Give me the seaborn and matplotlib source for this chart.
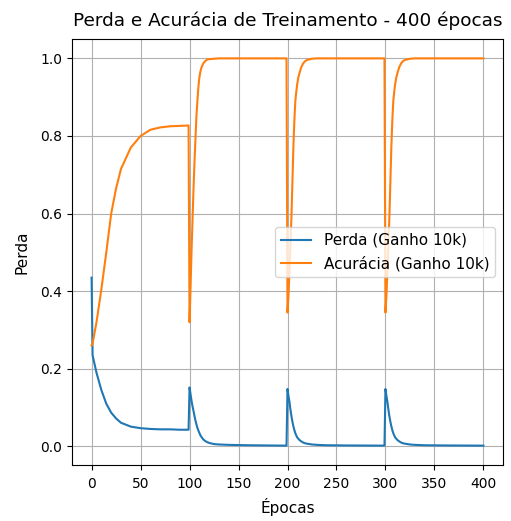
import matplotlib
matplotlib.use("Agg")
import matplotlib.pyplot as plt
import seaborn as sns
import pandas as pd

# Segment 1 (0-99)
ep1 = [0, 1, 5, 10, 15, 20, 25, 30, 40, 50, 60, 70, 80, 90, 99]
perda1 = [0.435, 0.235, 0.19, 0.145, 0.11, 0.087, 0.072, 0.061, 0.051, 0.047, 0.045, 0.044, 0.044, 0.043, 0.043]
acc1 = [0.26, 0.265, 0.32, 0.405, 0.50, 0.60, 0.665, 0.715, 0.77, 0.80, 0.816, 0.822, 0.825, 0.826, 0.827]

# Segment 2 (100-199)
ep2 = [100, 101, 102, 103, 104, 105, 106, 107, 108, 109, 110, 111, 112, 114, 116, 118, 120, 125, 130, 140, 160, 199]
perda2 = [0.152, 0.135, 0.118, 0.104, 0.092, 0.079, 0.067, 0.057, 0.048, 0.041, 0.035, 0.029, 0.025, 0.018, 0.014,
          0.011, 0.009, 0.006, 0.005, 0.004, 0.003, 0.002]
acc2 = [0.32, 0.41, 0.50, 0.58, 0.66, 0.73, 0.79, 0.85, 0.89, 0.925, 0.95, 0.965, 0.975, 0.987, 0.993,
        0.997, 0.998, 0.999, 1.0, 1.0, 1.0, 1.0]

# Segment 3 (200-299)
ep3 = [200, 201, 202, 203, 204, 205, 206, 207, 208, 209, 210, 211, 212, 214, 216, 218, 220, 225, 230, 240, 260, 299]
perda3 = [0.148, 0.13, 0.115, 0.095, 0.078, 0.064, 0.052, 0.042, 0.034, 0.028, 0.023, 0.020, 0.017, 0.013, 0.010,
          0.008, 0.007, 0.005, 0.004, 0.003, 0.0025, 0.002]
acc3 = [0.345, 0.39, 0.45, 0.52, 0.59, 0.68, 0.77, 0.84, 0.89, 0.915, 0.935, 0.95, 0.96, 0.977, 0.987,
        0.993, 0.996, 0.999, 1.0, 1.0, 1.0, 1.0]

# Segment 4 (300-400)
ep4 = [300, 301, 302, 303, 304, 305, 306, 307, 308, 309, 310, 311, 312, 314, 316, 318, 320, 325, 330, 340, 360, 400]
perda4 = [0.148, 0.13, 0.115, 0.095, 0.078, 0.064, 0.052, 0.042, 0.034, 0.028, 0.023, 0.020, 0.017, 0.013, 0.010,
          0.008, 0.007, 0.005, 0.004, 0.003, 0.0025, 0.002]
acc4 = [0.345, 0.39, 0.45, 0.52, 0.59, 0.68, 0.77, 0.84, 0.89, 0.915, 0.935, 0.95, 0.96, 0.977, 0.987,
        0.993, 0.996, 0.999, 1.0, 1.0, 1.0, 1.0]

epocas = ep1 + ep2 + ep3 + ep4
perda = perda1 + perda2 + perda3 + perda4
acuracia = acc1 + acc2 + acc3 + acc4

labels = ["Perda (Ganho 10k)", "Acurácia (Ganho 10k)"]

df = pd.DataFrame({
    "x": epocas + epocas,
    "y": perda + acuracia,
    "serie": [labels[0]] * len(epocas) + [labels[1]] * len(epocas),
})

fig = plt.figure(figsize=(5.11, 5.21), dpi=100)
ax = fig.add_subplot(111)
fig.subplots_adjust(left=72 / 511, right=503 / 511, top=1 - 39 / 521, bottom=1 - 465 / 521)

sns.lineplot(data=df, x="x", y="y", hue="serie", palette=["#1f77b4", "#ff7f0e"],
             sort=False, estimator=None, linewidth=1.5, ax=ax)

ax.set_title("Perda e Acurácia de Treinamento - 400 épocas", fontsize=13.3, pad=9)
ax.set_xlabel("Épocas", fontsize=11, labelpad=5)
ax.set_ylabel("Perda", fontsize=11, labelpad=7.5)
ax.grid(True)
ax.set_xticks([0, 50, 100, 150, 200, 250, 300, 350, 400])
ax.set_yticks([0.0, 0.2, 0.4, 0.6, 0.8, 1.0])
ax.tick_params(axis="x", pad=5.5)
handles, labs = ax.get_legend_handles_labels()
ax.legend(handles, labs, loc="center right", fontsize=11)

fig.savefig("out.png", dpi=100)
